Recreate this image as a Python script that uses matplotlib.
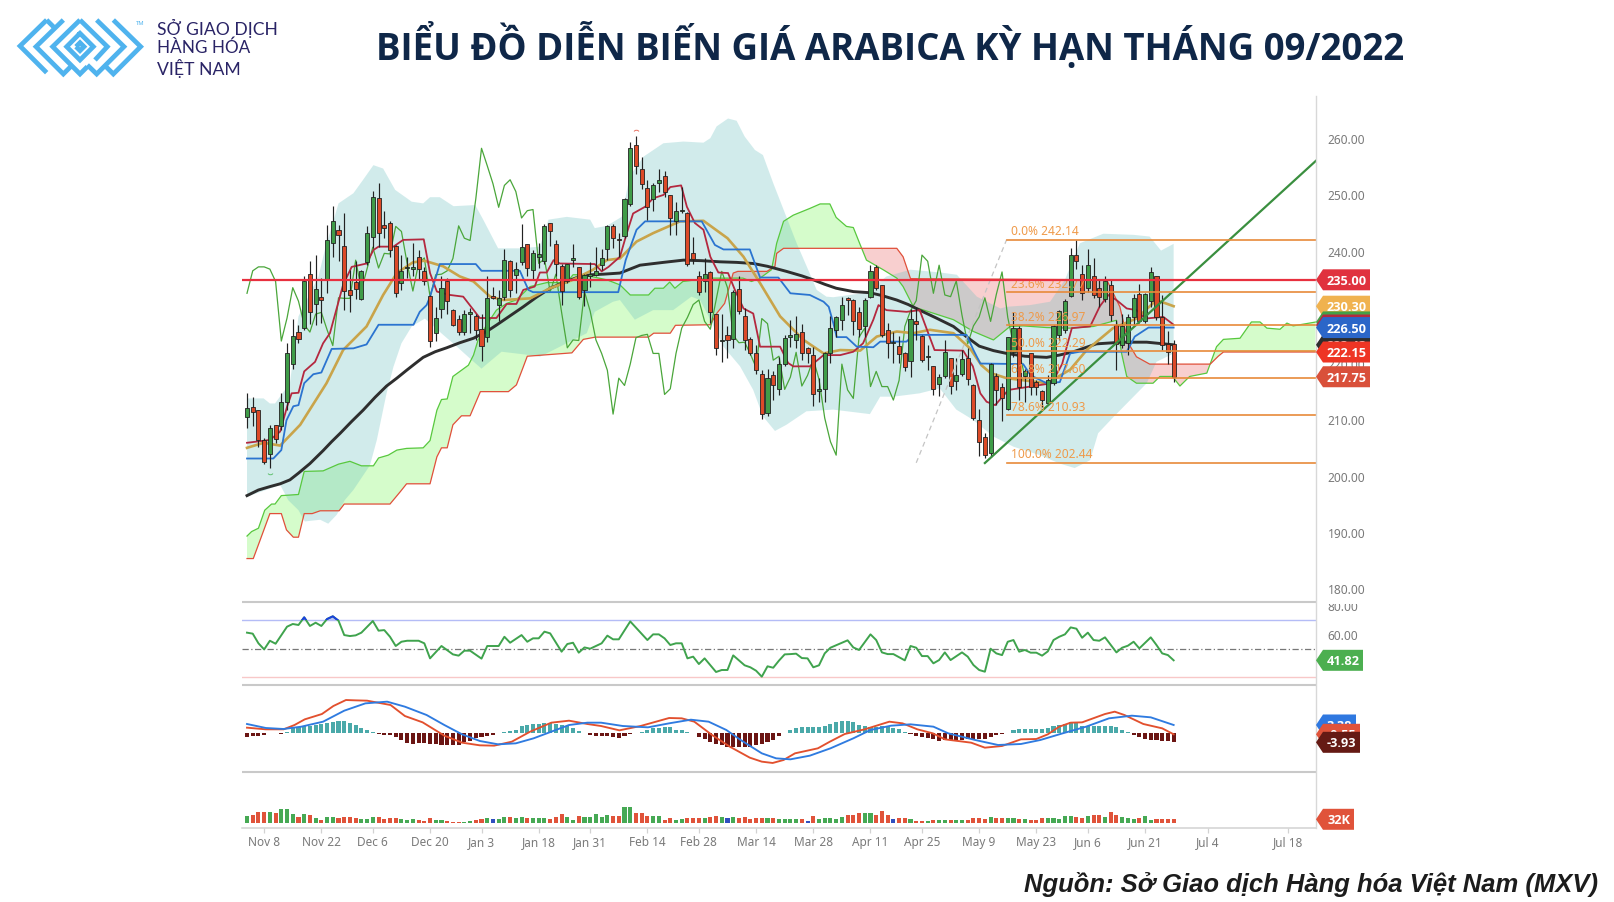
import numpy as np
import matplotlib
matplotlib.use("Agg")
import matplotlib.pyplot as plt
from matplotlib.patches import Polygon
from matplotlib.path import Path

FONT = "Noto Sans"
BOLD = "Open Sans"
plt.rcParams["font.family"] = [FONT, "DejaVu Sans"]

# ------------------------------------------------------------------ data
opens = [210.6,212.4,211.8,206.5,204.0,209.2,208.9,213.3,220.1,225.8,
226.4,236.0,230.7,232.0,235.0,241.6,243.9,241.1,233.1,234.6,
231.6,238.1,242.6,249.5,244.8,245.1,241.0,234.4,237.1,236.9,
239.1,236.6,232.2,225.6,229.8,234.8,229.6,228.0,225.7,228.9,
228.5,226.2,224.8,232.1,230.6,232.0,238.4,235.8,238.2,241.3,
236.8,239.0,238.4,245.1,241.3,237.5,234.7,238.6,237.2,233.1,
235.6,235.8,237.6,240.4,244.6,242.3,242.8,248.5,259.0,254.7,
251.3,249.3,252.2,253.5,250.1,245.4,247.2,246.8,239.8,235.6,
234.7,236.4,229.0,224.1,225.1,224.5,233.4,228.5,224.5,221.9,
218.2,211.3,218.0,215.6,220.0,224.9,224.2,225.7,222.9,221.7,
215.2,215.6,221.9,226.1,227.9,231.7,231.4,229.3,226.7,231.9,
237.2,234.0,226.1,223.7,223.3,221.9,220.6,227.6,225.0,221.2,
219.6,216.4,217.9,221.0,217.0,218.3,221.0,216.3,210.0,207.1,
204.1,217.9,215.9,212.0,222.2,226.5,217.9,221.9,216.9,215.2,
213.1,216.6,225.1,226.1,232.1,239.4,236.0,233.5,235.7,233.5,
231.5,234.0,227.0,223.4,223.7,228.4,232.5,227.6,231.2,235.6,
228.4,223.5,223.5]
highs = [214.8,214.2,211.8,206.8,209.2,209.2,214.9,223.8,228.1,227.0,
235.6,238.3,239.5,235.3,244.8,248.1,244.8,246.8,236.8,238.4,
236.8,244.6,250.8,252.3,247.3,245.4,241.2,239.4,239.0,241.5,
240.3,237.3,232.3,230.2,235.6,235.4,229.8,228.8,229.6,229.9,
229.0,229.0,235.6,233.8,233.2,240.5,238.5,238.2,244.9,241.4,
240.3,241.6,244.9,245.1,242.1,237.9,237.9,241.3,237.3,236.0,
238.2,240.8,240.4,244.8,244.9,243.4,249.5,259.6,260.5,256.9,
252.8,252.2,254.7,254.4,250.1,248.9,251.6,247.0,242.6,236.6,
238.8,236.5,229.0,229.0,226.7,233.2,235.6,229.9,224.8,223.4,
219.0,219.1,218.7,221.3,225.2,227.9,228.6,227.2,223.1,223.0,
217.5,222.1,228.5,228.5,231.9,232.0,231.5,230.2,231.7,237.6,
237.6,234.1,227.4,225.8,225.0,222.1,229.8,230.2,225.2,223.4,
219.7,218.3,224.2,221.1,221.0,222.5,222.8,216.5,212.0,207.8,
220.2,218.4,216.7,224.9,229.3,226.7,219.2,221.9,217.2,215.4,
218.1,227.0,229.7,231.5,240.6,242.0,237.6,240.4,238.8,235.0,
235.7,235.1,227.9,229.0,229.0,232.5,234.3,232.6,237.2,235.7,
232.3,225.9,224.3]
lows = [208.7,208.9,205.2,202.3,201.5,206.0,208.3,211.8,219.2,223.7,
226.1,227.2,227.0,227.4,232.7,239.1,238.4,229.6,229.2,231.5,
231.4,237.6,240.6,240.9,242.4,239.0,232.0,233.2,235.3,235.7,
235.0,234.0,223.1,224.1,228.2,229.0,226.7,225.2,225.2,225.5,
224.3,220.6,224.0,231.6,227.6,231.4,232.0,232.6,237.6,235.6,
235.0,237.1,237.9,241.0,235.6,230.5,234.4,237.3,231.6,230.4,
233.8,235.6,236.8,238.5,240.6,239.1,242.4,248.1,253.8,251.1,
245.7,247.3,250.7,249.8,243.0,243.0,246.8,237.5,237.9,232.3,
232.9,227.3,221.6,220.4,221.0,222.8,229.0,222.5,221.6,218.3,
210.2,210.7,213.6,214.5,219.6,223.1,222.8,220.7,220.2,212.6,
213.3,213.3,220.2,224.9,226.1,228.8,225.2,224.9,224.8,231.7,
233.2,224.8,221.0,220.2,220.2,218.7,217.7,224.3,220.4,219.0,
214.5,214.3,217.5,214.7,215.4,217.9,216.3,210.1,203.7,203.3,
203.5,212.7,209.8,211.9,221.3,213.6,213.3,214.5,214.5,212.4,
212.7,216.3,224.2,225.5,232.0,237.0,231.4,232.9,231.7,230.2,
231.1,227.6,218.9,222.8,221.6,227.0,227.3,227.3,230.2,227.9,
222.5,220.1,216.9]
closes = [212.1,211.4,206.5,202.5,208.7,206.7,213.3,222.0,225.0,224.5,
234.7,229.2,233.4,231.4,242.1,245.4,243.0,233.0,232.3,233.3,
236.6,243.4,249.8,243.3,244.2,240.3,232.6,236.6,237.3,237.3,
236.9,234.7,224.1,228.2,233.6,231.2,227.0,225.7,228.9,229.2,
226.1,223.3,231.8,231.7,231.7,238.5,233.2,237.0,240.8,237.1,
239.7,239.6,244.5,243.6,237.9,233.0,237.9,238.9,232.0,235.9,
236.0,236.6,238.8,244.6,242.4,242.0,249.4,258.4,255.3,252.1,
247.9,251.8,252.8,250.7,246.0,247.3,247.5,237.9,238.7,232.9,
236.0,229.2,222.9,224.3,224.2,232.9,229.4,224.3,221.9,218.9,
211.1,217.5,216.2,220.0,224.7,225.1,225.3,221.9,221.9,214.6,
215.6,221.9,226.4,228.3,230.6,231.4,227.6,226.2,231.4,236.5,
233.6,225.1,223.8,223.9,221.8,219.4,228.1,227.2,220.7,221.4,
215.5,217.7,222.1,216.1,218.0,220.9,217.3,210.4,206.2,203.8,
220.0,215.4,213.9,224.8,226.4,216.0,218.7,216.0,216.0,213.6,
217.1,226.7,229.5,231.3,239.4,238.3,232.6,237.6,232.3,232.0,
234.8,228.7,223.6,226.8,228.4,231.8,227.6,232.4,236.4,228.3,
223.4,222.1,217.75]

# long moving average (bar index, price)
black_i = [0,2,4,5.8,7.5,9,11,13.3,14.8,16.3,18.3,20.3,22.4,24.4,26.2,27.9,29.4,30.8,32.9,34.9,37.2,39.6,41.9,43.7,46,48.3,50.6,53,55.6,58.2,60.2,62.3,65.2,68.7,72.8,76.3,79.5,82.7,85.6,88.5,91,94.3,97,99,101,103,106,108.9,111,113.6,115.6,117.6,120.5,123.5,126,128,130.5,132.8,136,139.8,142,144.5,148.5,153,157.3,162]
black_v = [196.6,197.6,198.2,198.7,199.4,200.6,202.3,204.6,206.2,207.7,209.8,211.8,214.1,216.1,217.5,218.9,220.1,221.2,222.2,222.9,223.8,224.6,225.8,227.0,228.6,230.2,231.9,233.5,234.6,235.6,235.9,236.0,236.2,237.6,238.1,238.5,238.4,238.2,238.1,237.9,237.4,236.5,235.7,235.0,234.2,233.5,232.9,232.7,232.2,231.4,230.6,229.6,228.2,226.7,224.7,223.2,222.4,221.9,221.4,221.2,221.6,222.2,223.6,223.9,223.9,223.43]
# short moving average
gold_i = [0,2.9,5.8,9.3,13.9,16.8,20.9,23.8,26.2,29,31,34.3,37.2,39.6,42.5,44.8,49.5,53,57,60.5,62.9,65.2,68.1,71,75.7,79.8,84,86.8,89.7,93.2,97.3,100.8,103.7,107.2,110.1,113.6,116.5,119.4,123.5,126.4,128.4,130,132.8,139.8,143.9,146.8,151.4,155.5,159,162]
gold_v = [205.1,206.0,205.5,209.2,216.6,222.5,226.7,232.3,236.2,238.1,238.4,237.4,235.6,234.7,232.0,231.4,231.7,233.5,235.0,236.8,238.5,238.8,241.8,243.3,245.4,245.5,242.4,239.1,234.4,228.5,224.3,221.9,222.5,222.4,224.9,225.8,225.5,226.1,225.5,222.8,219.8,218.4,217.5,216.6,219.0,222.5,226.4,228.1,231.4,230.3]
# conversion line
crimson_i = [0,4,5.8,7,7.8,9,10,11.9,13.3,14.5,16.8,18.3,20.9,22.1,23,25.6,27.3,30.9,32,33.2,35.5,37.8,40.7,43.6,45.4,47.1,48.3,50.3,51.2,52.4,53.6,54.7,60.8,62,63.2,65.2,66.4,67.5,69.6,71,72.8,74,75.9,76.9,78.3,79.8,81,82.4,84.1,85.3,86.8,88.5,89.7,93.2,94.6,95.5,98.4,100.8,103.7,106,107.7,109.5,110.4,111.8,115.3,117.6,119.1,120.2,125.2,126.9,128.2,129.3,130.8,133.1,140.7,142.5,144.2,147.4,149.1,150.6,152,153.8,155.5,157,160.2,162]
crimson_v = [206.0,206.5,208.0,212.4,214.8,214.9,218.7,220.4,223.7,225.5,234.1,237.3,237.9,240.3,240.9,240.9,242.1,242.2,236.2,232.9,232.3,232.0,228.2,228.2,230.7,230.7,233.2,233.8,236.3,236.3,238.5,237.9,237.8,236.5,237.3,239.1,243.3,246.8,248.0,249.5,250.1,251.5,251.8,248.0,245.1,243.9,239.1,236.3,236.2,233.2,229.9,229.0,223.1,223.1,220.2,219.6,219.6,221.6,221.6,222.2,223.7,227.9,230.5,229.6,229.3,229.6,225.5,222.5,222.4,219.6,214.8,213.3,212.7,215.4,216.6,220.0,226.4,226.7,230.3,232.3,231.4,229.9,229.6,228.1,228.4,227.0]
# base line
blue_i = [0,4.6,6,6.9,8.1,9,10,11.6,13,14.8,18.6,20.9,23,29.1,30.2,31.4,32,33.7,40,41,47.7,49.2,50,64.9,66.2,68.1,69.6,79.5,81.8,83.3,87.9,89.7,92.9,95,98.4,100.8,101.7,102.5,103.1,104.8,106.6,109.5,110.7,115.3,116.5,125.8,127,128.2,135.7,137,139.8,142.1,143.9,145.6,153.8,155.2,157.6,162]
blue_v = [203.2,203.2,204.7,210.0,212.5,212.7,216.6,218.2,218.5,222.7,222.8,223.5,227.0,227.0,229.3,230.5,232.0,237.8,237.8,236.6,236.6,233.2,232.8,232.8,238.5,243.9,245.4,245.4,241.2,240.4,240.4,235.4,235.4,232.6,232.3,231.1,230.2,227.3,224.8,224.8,223.1,223.0,224.0,224.0,225.2,225.2,222.5,220.1,220.0,218.0,216.6,216.8,221.9,222.2,222.2,224.9,226.5,226.5]
# leading span A
span_a_i = [0,0.8,2,3.1,4.3,4.9,6,9,10,13.3,16,18,20,22.1,23,24.7,26.2,27.9,30.8,32,33.2,34,35,36,38.7,39.6,40.4,41.9,43.6,45.4,47,48.3,49.5,52.4,55.9,57,58.8,62.9,65.2,67,70.2,71.3,72.8,73.9,74.8,76.2,80.9,86.7,88.2,89.7,91.7,92.6,93.8,95.5,98.4,100.2,101.9,103,104.8,106,107.1,108.3,111.2,113.6,114.7,116.5,123.5,127,130.5,133.4,135.7,139.8,143.9,148,152,152.9,153.8,155.5,158.4,159.6,161.8,163.1,164.8,167.8,169.5,170.7,173.6,175.6,177.1,178.3,180.6,181.8,182.9,186.9]
span_a_v = [189.4,190.2,190.8,194.0,195.1,195.1,196.6,196.8,200.9,201.0,202.2,202.7,201.9,201.9,203.3,203.8,204.7,205.0,205.1,206.4,211.8,213.7,213.8,217.8,219.8,221.6,224.3,227.0,229.6,230.8,231.4,232.6,233.8,234.5,234.5,235.9,235.9,235.0,234.1,232.3,232.3,233.5,233.5,234.6,233.5,234.7,235.3,235.3,234.7,235.3,236.8,241.5,245.4,246.5,247.7,248.5,248.5,246.1,244.5,244.3,241.5,238.5,236.8,235.3,233.8,230.2,227.9,225.8,224.3,226.7,226.8,226.5,226.4,226.7,227.8,221.9,217.8,216.6,216.6,217.8,217.8,216.1,217.8,218.4,223.1,224.4,224.6,227.5,227.5,226.4,226.2,227.3,226.8,227.5]
# leading span B
span_b_i = [0,1.1,2.3,4,6,6.9,8.1,9,10,11.4,12.8,16.1,17,25,26.8,27.9,32,33.2,34,35,36,37.5,39,40.8,45.7,47.1,48.3,49,56.8,58.8,60.9,70.2,71.1,74,74.9,81,82.1,83.5,85,85.8,90.9,92.3,92.6,93.8,113.6,114.7,116,150.3,152.6,154.1,155.5,157.8,168.4,169.8,170.7,186.9]
span_b_v = [185.4,185.4,188.7,193.4,193.4,190.5,189.2,189.2,193.4,193.4,193.9,193.9,195.1,195.1,197.3,198.7,198.7,203.5,205.1,205.1,209.2,210.8,210.8,215.1,215.1,216.3,219.5,221.4,222.0,224.4,224.8,224.8,225.5,225.5,226.9,227.0,229.0,230.8,236.2,236.5,236.5,237.4,239.7,240.6,240.6,239.1,235.2,235.0,230.2,223.7,221.3,220.0,220.0,221.4,222.15,222.15]
# volatility band
upper_i = [0,2.9,4,4.9,7.5,9,12.5,13.6,16,18.6,20.3,22.1,23.8,25.9,28.8,30.8,32,33.7,36.1,39.9,41.3,43.9,47.7,51.2,52.7,55.9,60,60.8,62.9,65.5,66.9,69.3,72.8,76.3,79.8,81,82.1,84.1,85.6,87,88.8,90.2,92,94.3,96.1,98.1,99.6,101.3,102.5,108.3,111.8,116,121.2,124.1,127.6,131.7,132.8,136.9,140.4,143,145.6,149.7,155,157.8,159.8,162]
upper_v = [213.9,213.9,213.0,213.0,216.6,228.5,235.6,240.3,248.6,250.4,252.8,255.4,254.8,251.0,248.9,248.6,249.7,249.7,248.1,248.3,245.7,240.6,240.6,240.9,245.7,246.2,245.7,244.2,244.6,246.2,253.4,256.9,259.3,259.6,259.4,260.2,262.3,263.7,263.3,260.5,258.1,257.2,252.2,246.2,241.5,236.8,233.2,232.0,231.9,232.7,235.6,236.8,236.3,235.9,232.0,229.9,230.2,230.5,231.1,235.0,241.5,243.2,243.0,242.7,240.2,241.4]
lower_i = [0,5.8,7.2,9,10.1,12.8,14.2,15.7,17.1,18.6,21.5,22.7,24.4,25.6,27,28.8,31.1,34.3,36.7,39.3,41,44.5,49.5,51.2,59.4,60.8,64,65.2,67.8,71,74.5,77.7,79.2,81,83.3,86.2,88.5,90.2,92.3,94.3,97.8,102.5,108.9,110.7,113,115.3,117.6,121.1,124,126.9,130.5,134,138.6,142.1,144.7,147.4,148.8,151.5,154.4,157.3,159,162]
lower_v = [196.4,198.5,195.8,194.0,192.0,192.3,191.6,193.2,195.8,197.6,202.0,206.5,214.8,219.5,223.7,226.7,228.1,225.2,223.1,220.7,219.2,222.2,221.6,221.3,225.5,229.3,231.1,231.4,227.9,229.6,229.6,232.0,231.4,227.9,223.1,219.6,215.4,210.7,208.1,209.2,211.6,211.9,211.1,214.2,214.2,214.5,214.8,215.7,211.9,210.1,207.1,205.3,203.8,202.3,201.5,202.9,207.7,210.6,213.6,216.6,220.4,221.9]

fib_pct = ["0.0%","23.6%","38.2%","50.0%","61.8%","78.6%","100.0%"]
fib_val = [242.14,232.77,226.97,222.29,217.60,210.93,202.44]
resistance = 235.00
trend_i = [129,186.9]
trend_v = [202.4,256.2]
fib_trend_i = [117,132.8]
fib_trend_v = [202.44,242.14]

rsi_i = [0,1,2,3,4,5,7,8,9,10,11,12,13,14,15,16,17,18,19,20,22,23,24,25,26,27,28,30,31,32,34,36,37,38,39,41,42,44,45,46,48,49,50,51,52,53,55,56,57,58,59,60,62,63,64,65,67,70,71,72,73,74,75,76,77,78,79,80,82,83,84,85,87,88,89,90,91,92,93,94,95,96,97,98,99,100,101,102,105,106,107,109,110,111,112,113,115,116,117,118,119,120,121,122,123,125,126,127,128,129,130,131,132,133,134,135,136,137,138,139,140,141,142,143,144,145,146,147,148,149,150,152,153,154,155,156,158,159,160,161,162]
rsi_v = [61.3,60.6,53.8,49.5,55.6,53.5,65.5,67.4,66.7,72.1,66.0,68.3,66.0,70.9,72.8,69.7,59.6,58.9,59.4,61.3,69.5,62.7,63.1,58.4,51.9,54.9,55.6,55.6,53.8,43.2,51.9,46.0,45.1,48.6,48.6,43.0,51.9,51.9,58.4,54.2,59.6,54.9,57.3,57.3,62.0,60.8,47.9,53.3,54.2,47.2,50.9,50.0,53.8,59.2,56.6,56.6,69.2,56.1,60.1,60.1,57.3,52.6,53.8,53.8,43.2,44.4,39.2,43.2,33.6,35.0,35.0,45.3,38.3,36.9,34.5,30.3,37.6,36.6,41.6,46.0,46.2,46.5,43.4,43.2,36.9,38.3,46.7,50.7,55.9,50.9,49.1,60.1,56.1,47.4,46.2,46.2,41.8,51.9,50.7,44.8,44.8,39.7,42.0,47.4,42.0,47.4,44.4,38.5,35.0,33.8,50.0,46.7,45.5,54.9,56.1,47.9,49.1,47.2,47.2,45.1,48.1,56.1,58.4,60.1,65.0,64.1,57.7,61.3,56.1,55.6,58.0,47.4,50.7,52.1,54.9,50.2,58.0,52.6,46.7,45.5,41.82]
rsi_levels = [70,50,30]

macd_i = [0,3.3,6.4,8.3,10.1,13.1,15.1,17.3,18.9,21,25.1,27.6,30.7,34.5,37.6,40.7,43.2,46.3,49.5,53.2,56.3,59.5,61.9,65.1,68.8,73.8,76,78.2,81.3,84.4,87.9,90,91.9,93.8,95.8,99.8,101.9,104.5,108,112.3,114.6,117.2,119.9,122,126.6,129,132,135.3,138,140,142,144,146,150,151.7,153.4,156.7,160,162]
macd_v = [2.25,1.55,1.55,3.37,5.76,8.01,11.39,13.92,13.78,13.64,11.81,7.17,4.5,-1.12,-4.08,-5.2,-5.34,-3.66,0.56,4.36,5.2,3.8,2.95,1.12,2.95,6.33,6.19,4.78,-0.84,-5.76,-10.4,-12.09,-12.65,-11.39,-8.58,-6.47,-3.66,-0.42,1.55,4.78,4.08,1.55,-0.14,-2.67,-4.08,-6.19,-5.48,-2.67,-2.53,-0.56,2.67,4.36,4.5,8.01,9.0,7.59,3.8,1.97,-0.55]
signal_i = [0,3.3,6.4,9.5,13.3,17,20.7,24.5,27.6,31.4,34.5,37.6,40.7,43.9,47,50.1,53.2,56.3,59.5,61.9,65.7,70.1,73.8,77.6,80.7,83.8,86.3,90,92.5,95,98.4,102,106,109,112.6,116,120,122.6,127.3,131.3,135.3,138.7,142.6,146.7,150.7,154.7,158,162]
signal_v = [3.8,2.11,1.69,2.67,4.78,9.42,12.51,13.22,11.11,7.59,3.37,-0.56,-3.37,-4.78,-4.36,-2.25,0.56,3.37,4.36,4.36,2.95,2.39,4.08,5.62,4.78,1.27,-2.95,-8.58,-10.69,-11.11,-9.56,-6.47,-2.25,1.27,3.09,3.66,2.67,-0.14,-2.95,-5.06,-4.64,-2.95,-0.14,2.67,6.19,7.31,6.61,3.38]
hist = [-1.5,-1.1,-1.1,-1.0,-0.1,-0.1,-0.3,0.4,2.0,2.4,2.8,3.1,3.5,3.7,4.2,4.8,5.1,5.1,4.2,3.2,
2.1,1.4,0.3,-0.4,-0.7,-1.0,-1.7,-2.8,-4.2,-4.5,-4.4,-4.4,-4.6,-4.8,-5.2,-5.2,-4.9,-5.1,-3.9,-3.4,
-2.2,-1.8,-1.4,-1.0,0.1,0.6,0.7,1.1,2.8,3.4,3.7,3.9,4.2,4.4,3.9,3.4,2.8,2.2,0.8,0.1,
-0.7,-1.1,-1.3,-1.4,-1.7,-2.0,-1.1,-0.3,0.1,0.6,1.1,2.0,2.2,2.7,2.5,1.4,1.1,0.6,0.1,-1.7,
-2.5,-3.9,-4.6,-5.2,-5.9,-5.9,-5.9,-5.9,-5.9,-5.1,-4.5,-3.8,-2.8,-1.4,0.1,1.4,2.1,2.5,2.5,2.5,
2.7,2.8,3.9,4.5,5.1,5.1,4.6,3.5,2.8,2.5,2.5,2.8,2.4,2.2,1.8,0.3,-0.4,-1.3,-1.7,-2.0,
-2.5,-3.2,-3.1,-2.8,-2.8,-2.8,-2.7,-2.5,-2.5,-2.5,-1.7,-0.8,-0.4,0.1,1.1,1.8,1.7,1.7,1.7,1.7,
2.0,3.1,3.4,3.7,4.5,4.2,3.1,2.8,2.8,3.0,2.8,2.8,2.5,1.1,0.3,-0.7,-1.7,-2.5,-2.8,-3.1,
-3.2,-3.4,-3.93]

volume = [59,64,93,93,91,85,112,115,72,53,72,67,45,27,51,51,40,53,48,40,
35,35,48,48,37,40,45,35,27,32,27,19,40,27,24,19,13,13,13,21,
27,35,43,32,37,51,48,43,51,43,40,40,40,37,51,75,51,27,61,51,
51,72,53,67,61,59,128,128,85,80,61,59,59,27,40,27,32,45,43,43,
40,53,59,48,45,53,45,51,37,43,45,43,40,32,32,32,32,32,21,56,
32,40,40,35,48,67,67,85,85,80,67,99,67,32,45,45,32,21,19,19,
27,24,24,24,27,27,27,45,45,35,48,40,43,45,40,37,32,27,27,40,
40,40,32,59,61,48,43,61,64,64,53,93,67,53,45,35,40,61,27,32,
32,32,32]
flat_days = [43,84,98,113]

tick_idx = [3,13,22,32,41,51,60,70,79,89,99,109,118,128,138,147,157,168,182]
tick_lbl = ["Nov 8","Nov 22","Dec 6","Dec 20","Jan 3","Jan 18","Jan 31","Feb 14","Feb 28","Mar 14","Mar 28","Apr 11","Apr 25","May 9","May 23","Jun 6","Jun 21","Jul 4","Jul 18"]
price_ticks = [180,190,200,210,220,230,240,250,260]

TITLE = "BIỂU ĐỒ DIỄN BIẾN GIÁ ARABICA KỲ HẠN THÁNG 09/2022"
SOURCE = "Nguồn: Sở Giao dịch Hàng hóa Việt Nam (MXV)"
LOGO_LINES = ["SỞ GIAO DỊCH","HÀNG HÓA","VIỆT NAM"]

# ------------------------------------------------------------------ layout
W, H = 1614, 902
fig = plt.figure(figsize=(W/100, H/100), dpi=100, facecolor="white")
X0, X1 = 242, 1316
BAR0, STEP = 247, 5.72
xlim = ((X0-BAR0)/STEP, (X1-BAR0)/STEP)

def panel(top, bottom, ymin, ymax):
    a = fig.add_axes([X0/W, 1-bottom/H, (X1-X0)/W, (bottom-top)/H])
    a.set_xlim(*xlim); a.set_ylim(ymin, ymax)
    a.patch.set_alpha(0)
    for s in a.spines.values():
        s.set_visible(False)
    a.set_xticks([])
    a.set_yticks([])
    return a

ax = panel(97, 602, 240-(602-251.7)/5.62, 240+(251.7-97)/5.62)
ax_rsi = panel(602, 685, 50-(685-648.7)/1.42, 50+(648.7-602)/1.42)
ax_macd = panel(685, 772, -(772-733)/2.37, (733-685)/2.37)
ax_vol = panel(772, 828, -4.7*8, (823.3-772)*8)

GREEN, RED = "#3f9c48", "#dc4a28"
idx = np.arange(len(closes))
o, h, l, c = map(np.array, (opens, highs, lows, closes))

# cloud: the two spans evaluated on a shared grid only to shade between them
grid = np.arange(0, 186.9, 0.1)
ga, gb = np.interp(grid, span_a_i, span_a_v), np.interp(grid, span_b_i, span_b_v)
ax.fill_between(grid, ga, gb, where=ga >= gb, interpolate=True, color="#d5fccb", lw=0, zorder=1)
ax.fill_between(grid, ga, gb, where=ga < gb, interpolate=True, color="#f8cfcf", lw=0, zorder=1)
# band
ax.fill(list(upper_i)+list(lower_i)[::-1], list(upper_v)+list(lower_v)[::-1],
        color=(105/255, 192/255, 192/255), alpha=0.3, lw=0, zorder=2)
ax.plot(span_a_i, span_a_v, color="#58c83e", lw=0.9, zorder=3)
ax.plot(span_b_i, span_b_v, color="#e0503a", lw=0.9, zorder=3)
ax.plot(idx[:len(closes)-26], closes[26:], color="#4aa63a", lw=0.9, zorder=3)
ax.plot(black_i, black_v, color="#2e2e2e", lw=2.1, zorder=4)
ax.plot(gold_i, gold_v, color="#c9a44a", lw=1.9, zorder=4)
ax.plot(crimson_i, crimson_v, color="#b4283f", lw=1.3, zorder=4)
ax.plot(blue_i, blue_v, color="#2b74d0", lw=1.3, zorder=4)
# candles
ax.vlines(idx, l, h, color="#222222", lw=0.85, zorder=5)
up = c >= o
ax.bar(idx, np.maximum(np.abs(c-o), 0.15), bottom=np.minimum(o, c), width=0.72,
       color=[GREEN if u else RED for u in up], edgecolor="#222222", linewidth=0.6, zorder=6)
arc = Path([(-1, 0), (-0.6, 0.7), (0.6, 0.7), (1, 0)], [Path.MOVETO, Path.CURVE4, Path.CURVE4, Path.CURVE4])
ax.plot([68], [261.4], marker=arc, ms=3.5, mfc="none", mec="#e87060", mew=0.7, zorder=6)
arc2 = Path([(-1, 0), (-0.6, -0.7), (0.6, -0.7), (1, 0)], [Path.MOVETO, Path.CURVE4, Path.CURVE4, Path.CURVE4])
ax.plot([4], [200.7], marker=arc2, ms=3.5, mfc="none", mec="#60c070", mew=0.7, zorder=6)
# drawings
ax.plot(fib_trend_i, fib_trend_v, color="#c4c4c4", lw=0.9, ls=(0, (4, 3)), zorder=7)
ax.plot(trend_i, trend_v, color="#3a8f3f", lw=1.6, zorder=8)
for p, v in zip(fib_pct, fib_val):
    ax.plot([132.8, xlim[1]], [v, v], color="#e88a3a", lw=1.2, zorder=8)
    ax.text(133.5, v+0.25, f"{p} {v:.2f}", color="#ef9a4a", fontsize=8.6, va="bottom", ha="left", zorder=9)
ax.plot(xlim, [resistance, resistance], color="#e8303f", lw=1.6, zorder=9)
ax.yaxis.tick_right()
ax.set_yticks(price_ticks)
ax.set_yticklabels([f"{t:.2f}" for t in price_ticks], color="#7a7a7a", fontsize=8.6)
ax.tick_params(axis="y", length=0, pad=8.4)

# RSI
ax_rsi.plot(xlim, [70, 70], color="#b4bcf6", lw=1)
ax_rsi.plot(xlim, [30, 30], color="#f8c8c8", lw=1)
ax_rsi.plot(xlim, [50, 50], color="#777777", lw=0.9, ls=(0, (5, 2, 1, 2)))
gi = np.arange(0, 162.01, 0.05)
gr = np.interp(gi, rsi_i, rsi_v)
ax_rsi.fill_between(gi, 70, gr, where=gr > 70, color="#6a7cf0", alpha=0.45, lw=0)
ax_rsi.plot(rsi_i, rsi_v, color="#3fa34d", lw=1.4)
over = ax_rsi.plot(rsi_i, rsi_v, color="#1a3fe0", lw=1.4)[0]
clip = plt.Rectangle((xlim[0], 70), xlim[1]-xlim[0], 20, transform=ax_rsi.transData)
over.set_clip_path(clip)
ax_rsi.yaxis.tick_right()
ax_rsi.set_yticks([60, 80])
ax_rsi.set_yticklabels(["60.00", "80.00"], color="#7a7a7a", fontsize=8.6)
ax_rsi.tick_params(axis="y", length=0, pad=8.4)

# MACD
ax_macd.bar(idx, hist, width=0.72, color=["#4aa9a9" if v > 0 else "#6b1513" for v in hist], lw=0)
ax_macd.plot(macd_i, macd_v, color="#e2502e", lw=1.35)
ax_macd.plot(signal_i, signal_v, color="#2f7be0", lw=1.35)

# volume
vcol = ["#2f4fc0" if i in flat_days else ("#46a954" if u else "#e0533a") for i, u in zip(idx, up)]
ax_vol.bar(idx, volume, width=0.72, color=vcol, lw=0)
ax_vol.spines["bottom"].set_visible(True)
ax_vol.spines["bottom"].set_color("#d2d2d2")
ax_vol.spines["bottom"].set_linewidth(1.1)
ax_vol.set_xticks(tick_idx)
ax_vol.set_xticklabels(tick_lbl, color="#7a7a7a", fontsize=8.5)
ax_vol.tick_params(axis="x", length=3.6, width=0.9, color="#d2d2d2", pad=2.5)

# ------------------------------------------------------------------ overlay in pixels
ov = fig.add_axes([0, 0, 1, 1], zorder=20)
ov.set_xlim(0, W); ov.set_ylim(H, 0); ov.axis("off"); ov.patch.set_alpha(0)

for y in (602, 685, 772):
    ov.plot([X0, X1], [y, y], color="#c9c9c9", lw=1.5, solid_capstyle="butt")
ov.plot([X1, X1], [96, 828], color="#d8d8d8", lw=1.0)
ov.fill([1317, 1372, 1372, 1317], [596, 596, 603.5, 603.5], color="white", lw=0)

def ypx(a, v):
    return H - a.transData.transform((0, v))[1]

layer = [10]
def tag(a, v, txt, col, right=1370, fc="white"):
    y = ypx(a, v)
    layer[0] += 2
    ov.add_patch(Polygon([(X1, y), (X1+7, y-10.5), (right, y-10.5), (right, y+10.5), (X1+7, y+10.5)],
                         closed=True, fc=col, ec="none", zorder=layer[0]))
    if txt:
        ov.text((X1+7+right)/2, y, txt, color=fc, fontsize=9.2, fontweight="bold", family=BOLD,
                ha="center", va="center_baseline", zorder=layer[0]+1)

tag(ax, 235.00, "235.00", "#e0323e")
tag(ax, 230.30, "230.30", "#f0b24f")
tag(ax, 223.43, "223.43", "#2e2e2e")
tag(ax, 227.5, "", "#43a047")
tag(ax, 226.95, "", "#b4283f")
tag(ax, 226.50, "226.50", "#2b66c8")
tag(ax, 222.15, "222.15", "#ee3524")
tag(ax, 217.75, "217.75", "#d9503a")
tag(ax_rsi, 41.82, "41.82", "#4caf50", right=1363)
tag(ax_macd, 3.38, "3.38", "#2f78e0", right=1356)
tag(ax_macd, -0.55, "-0.55", "#e0533a", right=1360)
tag(ax_macd, -3.93, "-3.93", "#651a14", right=1360)
tag(ax_vol, 32, "32K", "#e0533a", right=1354)

def fit(t, width):
    r = fig.canvas.get_renderer()
    t.set_fontsize(t.get_fontsize()*width/t.get_window_extent(r).width)

t = ov.text(890.5, 45.5, TITLE, color="#0f2748", fontsize=26, fontweight="bold", family=BOLD, ha="center", va="center")
fit(t, 1029)
s = ov.text(1598, 884.5, SOURCE, color="#1c1c1c", fontsize=17, fontweight="bold", style="italic",
            family="Liberation Sans", ha="right", va="center")
fit(s, 575)

# logo
LOGO_BLUE = "#4fb3ee"
logo = [
    [(140,60),(60,138),(140,218)],
    [(140,60),(165,85)],
    [(190,60),(108,140),(190,222),(215,197)],
    [(240,60),(158,140),(240,222),(262,200)],
    [(240,100),(200,140),(240,180),(280,140),(235,95)],
    [(240,60),(322,140),(285,180)],
    [(290,60),(372,140),(290,222),(262,195)],
    [(340,60),(422,140),(340,222),(318,200)],
    [(228,140),(240,128),(252,140),(240,152),(228,140)],
]
for seg in logo:
    xs, ys = zip(*seg)
    ov.plot(np.array(xs)/3, np.array(ys)/3, color=LOGO_BLUE, lw=3.4, solid_capstyle="butt", solid_joinstyle="miter")
ov.text(140, 23.5, "TM", color=LOGO_BLUE, fontsize=4.2, ha="center", va="center")
for txt, y, w in zip(LOGO_LINES, (28, 48, 68), (120, 93, 83)):
    lt = ov.text(157, y, txt, color="#2a2466", fontsize=13, family="Lato", ha="left", va="center")
    fit(lt, w)

fig.savefig("out.png", dpi=100, facecolor="white")
